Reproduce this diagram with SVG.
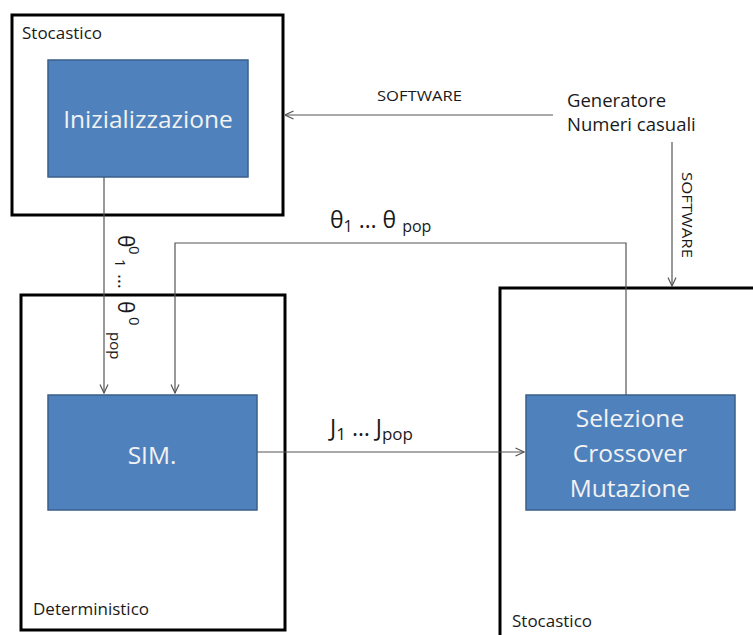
<svg xmlns="http://www.w3.org/2000/svg" width="753" height="635" viewBox="0 0 753 635">
<style>
.frame{fill:none;stroke:#000;stroke-width:3}
.blk{fill:#4F81BD;stroke:#3A5F8B;stroke-width:1.5}
.btxt{font-family:"Open Sans","Liberation Sans",sans-serif;fill:#F2F2F2;text-anchor:middle;font-size:24.5px}
.lbl{font-family:"Open Sans","Liberation Sans",sans-serif;fill:#1a1a1a}
.wire{fill:none;stroke:#555;stroke-width:1.2}
</style>
<defs>
<marker id="arr" viewBox="0 0 10 10" refX="9.5" refY="5" markerWidth="10" markerHeight="10" markerUnits="userSpaceOnUse" orient="auto">
<path d="M1,1 L9.5,5 L1,9" fill="none" stroke="#555" stroke-width="1.2"/>
</marker>
</defs>
<rect width="753" height="635" fill="#fff"/>
<g id="frame-stocastico-top">
<rect class="frame" x="12" y="15" width="271" height="200"/>
<text class="lbl" x="22" y="39" font-size="17">Stocastico</text>
</g>
<g id="frame-deterministico">
<rect class="frame" x="21" y="295" width="264" height="335"/>
<text class="lbl" x="33" y="615" font-size="17">Deterministico</text>
</g>
<g id="frame-stocastico-right">
<rect class="frame" x="500" y="288" width="270" height="360"/>
<text class="lbl" x="512" y="627" font-size="17">Stocastico</text>
</g>
<g id="inizializzazione">
<rect class="blk" x="48" y="60" width="200" height="117"/>
<text class="btxt" x="148" y="128">Inizializzazione</text>
</g>
<g id="sim">
<rect class="blk" x="48" y="395" width="209" height="115"/>
<text class="btxt" x="152" y="464">SIM.</text>
</g>
<g id="selezione">
<rect class="blk" x="526" y="395" width="209" height="115"/>
<text class="btxt" x="630" y="427">Selezione</text>
<text class="btxt" x="630" y="462">Crossover</text>
<text class="btxt" x="630" y="497">Mutazione</text>
</g>
<g id="generatore">
<text class="lbl" x="567" y="107" font-size="18.5">Generatore</text>
<text class="lbl" x="567" y="131" font-size="18.5">Numeri casuali</text>
</g>
<g id="connectors">
<line class="wire" x1="553" y1="115" x2="285" y2="115" marker-end="url(#arr)"/>
<text class="lbl" x="377" y="101" font-size="14" textLength="85" lengthAdjust="spacingAndGlyphs">SOFTWARE</text>
<line class="wire" x1="672" y1="142" x2="672" y2="286" marker-end="url(#arr)"/>
<text class="lbl" transform="translate(682,172) rotate(90)" font-size="14" textLength="86" lengthAdjust="spacingAndGlyphs">SOFTWARE</text>
<line class="wire" x1="104" y1="177" x2="104" y2="393" marker-end="url(#arr)"/>
<text class="lbl" transform="translate(118,235) rotate(90)" font-size="21"><tspan x="0" y="0">θ</tspan><tspan x="11" y="-11" font-size="15">0</tspan><tspan x="24" y="3" font-size="15">1</tspan><tspan x="39" y="0" font-size="19">…</tspan><tspan x="66" y="0">θ</tspan><tspan x="82" y="-11" font-size="15">0</tspan><tspan x="97" y="8" font-size="15">pop</tspan></text>
<polyline class="wire" points="626,395 626,243 175,243 175,393" marker-end="url(#arr)"/>
<text class="lbl" x="330" y="228" font-size="23">θ<tspan font-size="16" dy="4">1</tspan><tspan dy="-4"> … θ </tspan><tspan font-size="16" dy="4">pop</tspan></text>
<line class="wire" x1="257" y1="452" x2="524" y2="452" marker-end="url(#arr)"/>
<text class="lbl" x="330" y="436" font-size="23">J<tspan font-size="17" dy="4">1</tspan><tspan dy="-4"> … J</tspan><tspan font-size="17" dy="4">pop</tspan></text>
</g>
</svg>
